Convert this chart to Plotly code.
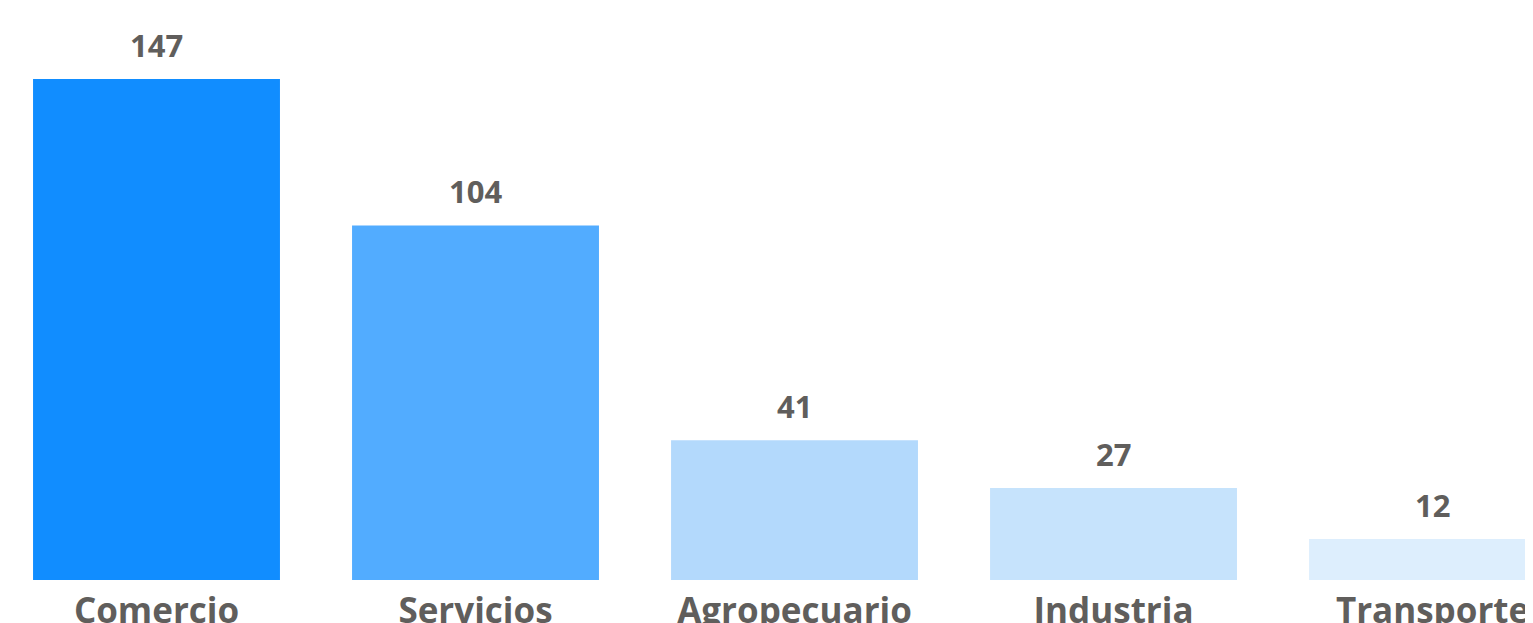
import plotly.graph_objects as go

sectors = ["Comercio", "Servicios", "Agropecuario", "Industria", "Transporte"]
counts = [147, 104, 41, 27, 12]
bar_colors = ["#118DFF", "#52ACFF", "#B3D9FC", "#C6E3FC", "#DDEEFD"]

FONT = "Segoe UI, Open Sans, sans-serif"
GREY = "#605E5C"

fig = go.Figure(
    go.Bar(
        x=sectors,
        y=counts,
        marker_color=bar_colors,
        marker_line_width=0,
        hoverinfo="skip",
    )
)

# value labels above each bar
for s, c in zip(sectors, counts):
    fig.add_annotation(
        x=s, y=c, text=f"<b>{c}</b>", showarrow=False,
        yanchor="bottom", yshift=11,
        font=dict(family=FONT, size=31, color=GREY),
    )

# page body adds an 8px offset; the last bar runs off the right edge
fig.update_layout(
    width=1533,
    height=615,
    plot_bgcolor="white",
    paper_bgcolor="white",
    bargap=0.226,
    showlegend=False,
    margin=dict(l=0, r=0, t=0, b=43),
    xaxis=dict(
        range=[-0.4655, 4.340],
        showgrid=False,
        showline=False,
        zeroline=False,
        automargin=False,
        tickfont=dict(family=FONT, size=35, color=GREY, weight="bold"),
        ticks="",
        ticklabelstandoff=7,
    ),
    yaxis=dict(
        range=[0, 167.8],
        visible=False,
        showgrid=False,
        zeroline=False,
        automargin=False,
    ),
)

fig.write_html("out.html")
